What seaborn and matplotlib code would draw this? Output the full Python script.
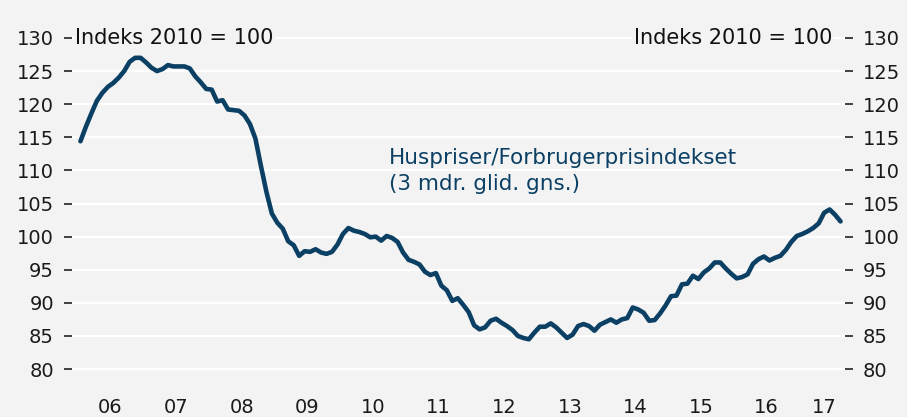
import pandas as pd
import seaborn as sns
import matplotlib.pyplot as plt

# monthly values, Jan 2006 - Aug 2017 (index 2010 = 100)
v2006 = [114.4, 116.6, 118.6, 120.5, 121.7, 122.6, 123.2, 124.0, 125.0, 126.4, 127.0, 127.0]
v2007 = [126.3, 125.5, 125.0, 125.3, 125.9, 125.7, 125.7, 125.7, 125.4, 124.2, 123.3, 122.3]
v2008 = [122.2, 120.4, 120.6, 119.2, 119.1, 119.0, 118.3, 117.0, 114.8, 110.7, 106.8, 103.5]
v2009 = [102.1, 101.2, 99.3, 98.7, 97.1, 97.8, 97.7, 98.1, 97.6, 97.4, 97.7, 98.8]
v2010 = [100.4, 101.3, 100.9, 100.7, 100.4, 99.9, 100.0, 99.4, 100.1, 99.8, 99.2, 97.6]
v2011 = [96.5, 96.2, 95.8, 94.7, 94.2, 94.5, 92.6, 91.9, 90.3, 90.7, 89.7, 88.6]
v2012 = [86.6, 86.0, 86.3, 87.3, 87.6, 87.0, 86.5, 85.9, 85.0, 84.7, 84.5, 85.5]
v2013 = [86.4, 86.4, 86.9, 86.3, 85.5, 84.7, 85.2, 86.5, 86.8, 86.5, 85.8, 86.7]
v2014 = [87.1, 87.5, 87.0, 87.5, 87.7, 89.3, 89.0, 88.5, 87.3, 87.4, 88.4, 89.6]
v2015 = [91.0, 91.1, 92.8, 92.9, 94.1, 93.6, 94.6, 95.2, 96.1, 96.1, 95.2, 94.4]
v2016 = [93.7, 93.9, 94.3, 95.9, 96.6, 97.0, 96.4, 96.8, 97.1, 98.0, 99.2, 100.1]
v2017 = [100.4, 100.8, 101.3, 102.0, 103.6, 104.1, 103.3, 102.3]

values = v2006 + v2007 + v2008 + v2009 + v2010 + v2011 + v2012 + v2013 + v2014 + v2015 + v2016 + v2017
years = [2006 + (i + 0.5) / 12 for i in range(len(values))]

year_labels = ['06', '07', '08', '09', '10', '11', '12', '13', '14', '15', '16', '17']
label_pos = [2006.5 + i for i in range(11)] + [2017.38]
yticks = [80, 85, 90, 95, 100, 105, 110, 115, 120, 125, 130]

df = pd.DataFrame({'year': years, 'index': values})

bg = '#f3f3f3'
sns.set_style('white', rc={'axes.facecolor': bg, 'figure.facecolor': bg})
plt.rcParams['font.family'] = ['DejaVu Sans']

fig = plt.figure(figsize=(9.07, 4.17), dpi=100)
ax = fig.add_axes([72 / 907, 1 - 383 / 417, (845 - 72) / 907, 353 / 417])

ax.set_ylim(77.9, 131.2)
ax.set_xlim(2005.913, 2017.693)
for y in yticks:
    ax.axhline(y, color='white', lw=1.6, zorder=0)

sns.lineplot(data=df, x='year', y='index', ax=ax, color='#0b4064', lw=3.3, zorder=3)

for s in ax.spines.values():
    s.set_visible(False)

ax.set_yticks(yticks)
ax.set_yticklabels([str(t) for t in yticks])
ax.tick_params(axis='y', direction='out', length=6, width=1.3, color='#333333',
               labelsize=14, labelcolor='#1a1a1a', pad=7)

ax.set_xticks(range(2006, 2018))
ax.set_xticklabels([])
ax.set_xticks(label_pos, minor=True)
ax.set_xticklabels(year_labels, minor=True)
ax.tick_params(axis='x', which='major', direction='out', length=7, width=1.3, color='#333333')
ax.tick_params(axis='x', which='minor', length=0, labelsize=14, labelcolor='#1a1a1a', pad=11)
ax.set_xlabel('')
ax.set_ylabel('')

ax2 = ax.twinx()
ax2.set_ylim(ax.get_ylim())
ax2.set_yticks(yticks)
ax2.set_yticklabels([str(t) for t in yticks])
ax2.tick_params(axis='y', direction='out', length=6, width=1.3, color='#333333',
                labelsize=14, labelcolor='#1a1a1a', pad=7)
for s in ax2.spines.values():
    s.set_visible(False)

box = dict(facecolor=bg, edgecolor='none', pad=1)
ax.text(2005.96, 130, 'Indeks 2010 = 100', fontsize=15, color='#111111',
        ha='left', va='center', bbox=box, zorder=4)
ax.text(2017.494, 130, 'Indeks 2010 = 100', fontsize=15, color='#111111',
        ha='right', va='center', bbox=box, zorder=4)

ax.text(2010.74, 111.9, 'Huspriser/Forbrugerprisindekset', fontsize=15.5,
        color='#0b4064', ha='left', va='center')
ax.text(2010.74, 107.9, '(3 mdr. glid. gns.)', fontsize=15.5,
        color='#0b4064', ha='left', va='center')

fig.savefig('out.png', dpi=100, facecolor=bg)
